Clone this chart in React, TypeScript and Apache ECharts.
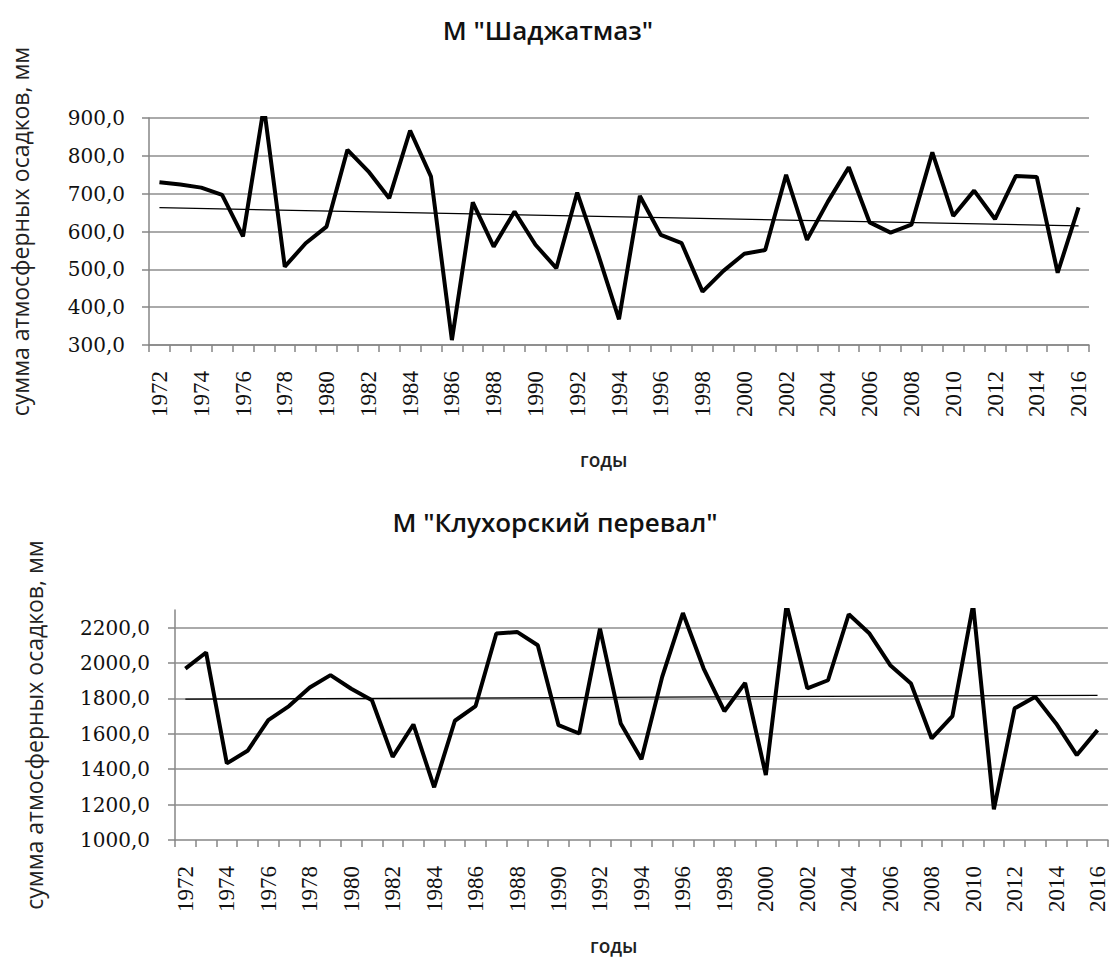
import React, { useEffect, useRef } from "react";
import * as echarts from "echarts";

const years = [
  "1972", "1973", "1974", "1975", "1976", "1977", "1978", "1979", "1980", "1981",
  "1982", "1983", "1984", "1985", "1986", "1987", "1988", "1989", "1990", "1991",
  "1992", "1993", "1994", "1995", "1996", "1997", "1998", "1999", "2000", "2001",
  "2002", "2003", "2004", "2005", "2006", "2007", "2008", "2009", "2010", "2011",
  "2012", "2013", "2014", "2015", "2016",
];

const shadzhatmaz = [
  730, 724, 716, 697, 587, 930, 507, 569, 613, 816,
  759, 688, 867, 745, 313, 677, 560, 653, 565, 503,
  703, 540, 368, 694, 591, 569, 441, 496, 541, 551,
  750, 578, 679, 770, 624, 597, 618, 809, 641, 708,
  633, 747, 744, 491, 664,
];

const klukhor = [
  1969, 2060, 1433, 1504, 1678, 1757, 1862, 1932, 1855, 1790,
  1470, 1653, 1298, 1674, 1757, 2167, 2176, 2101, 1649, 1602,
  2195, 1659, 1456, 1922, 2283, 1969, 1728, 1888, 1367, 2330,
  1857, 1903, 2276, 2167, 1988, 1885, 1574, 1700, 2330, 1173,
  1744, 1809, 1659, 1480, 1621,
];

// trend line end values (first year, last year)
const shadzhatmazTrend = [663, 615];
const klukhorTrend = [1796, 1818];

const klukhorTicks = [1000, 1200, 1400, 1600, 1800, 2000, 2200];

const titleTop = 'М "Шаджатмаз"';
const titleBottom = 'М "Клухорский перевал"';
const yName = "сумма атмосферных осадков, мм";
const xName = "годы";

const GRID_COLOR = "#8e8e8e";
const AXIS_COLOR = "#868686";

function trendData(ends: number[]) {
  return years.map((_, i) => (i === 0 ? ends[0] : i === years.length - 1 ? ends[1] : null));
}

const fmt = (v: number) => v.toFixed(1).replace(".", ",");

export default function App() {
  const ref = useRef<HTMLDivElement>(null);

  useEffect(() => {
    if (!ref.current) return;
    const chart = echarts.init(ref.current, undefined, { renderer: "svg" });

    const xAxisCommon = (gridIndex: number, margin: number) => ({
      type: "category",
      gridIndex,
      data: years,
      boundaryGap: true,
      axisLine: { show: true, lineStyle: { color: AXIS_COLOR, width: 1.5 } },
      axisTick: { show: true, interval: 0, length: 7, lineStyle: { color: AXIS_COLOR, width: 1.5 } },
      axisLabel: {
        interval: 1,
        rotate: 90,
        margin,
        color: "#111",
        fontFamily: "Liberation Serif",
        fontSize: 23,
      },
      splitLine: { show: false },
    });

    const titleStyle = { fontFamily: "Open Sans", fontWeight: 600, fontSize: 26, color: "#111" };

    const option = {
      animation: false,
      backgroundColor: "#ffffff",
      title: [
        { text: titleTop, left: 543, top: 12, textAlign: "center", textStyle: titleStyle },
        { text: titleBottom, left: 550, top: 504, textAlign: "center", textStyle: titleStyle },
      ],
      grid: [
        { left: 142, top: 118, width: 947, height: 227, containLabel: false },
        { left: 175, top: 610, width: 936, height: 230, containLabel: false },
      ],
      xAxis: [xAxisCommon(0, 26), xAxisCommon(1, 26)],
      yAxis: [
        {
          type: "value",
          gridIndex: 0,
          min: 300,
          max: 900,
          interval: 100,
          name: yName,
          nameLocation: "middle",
          nameGap: 118,
          nameRotate: 90,
          nameTextStyle: { fontFamily: "Open Sans", fontSize: 23, color: "#222" },
          axisLine: { show: true, lineStyle: { color: AXIS_COLOR, width: 1.5 } },
          axisTick: { show: true, length: 7, lineStyle: { color: AXIS_COLOR, width: 1.5 } },
          axisLabel: {
            margin: 24,
            color: "#111",
            fontFamily: "DejaVu Serif",
            fontSize: 20,
            formatter: fmt,
          },
          splitLine: { show: true, lineStyle: { color: GRID_COLOR, width: 1.5 } },
        },
        {
          type: "value",
          gridIndex: 1,
          min: 1000,
          max: 2300,
          interval: 200,
          name: yName,
          nameLocation: "middle",
          nameGap: 130,
          nameRotate: 90,
          nameTextStyle: { fontFamily: "Open Sans", fontSize: 23, color: "#222" },
          axisLine: { show: true, lineStyle: { color: AXIS_COLOR, width: 1.5 } },
          axisTick: {
            show: true,
            length: 7,
            customValues: klukhorTicks,
            lineStyle: { color: AXIS_COLOR, width: 1.5 },
          },
          axisLabel: {
            margin: 25,
            color: "#111",
            fontFamily: "DejaVu Serif",
            fontSize: 20,
            formatter: (v: number) => (v > 2200 ? "" : fmt(v)),
          },
          splitLine: { show: false },
        },
      ],
      graphic: [
        {
          type: "text",
          left: 580,
          top: 450,
          style: { text: xName, fontFamily: "Open Sans", fontWeight: 600, fontSize: 19, fill: "#222", textAlign: "center" },
        },
        {
          type: "text",
          left: 590,
          top: 936,
          style: { text: xName, fontFamily: "Open Sans", fontWeight: 600, fontSize: 19, fill: "#222", textAlign: "center" },
        },
      ],
      series: [
        {
          type: "line",
          name: "trend1",
          xAxisIndex: 0,
          yAxisIndex: 0,
          data: trendData(shadzhatmazTrend),
          connectNulls: true,
          symbol: "none",
          lineStyle: { color: "#000", width: 1.3 },
          z: 3,
        },
        {
          type: "line",
          name: "Шаджатмаз",
          xAxisIndex: 0,
          yAxisIndex: 0,
          data: shadzhatmaz,
          symbol: "none",
          clip: true,
          lineStyle: { color: "#000", width: 4 },
          z: 4,
        },
        {
          type: "line",
          name: "trend2",
          xAxisIndex: 1,
          yAxisIndex: 1,
          data: trendData(klukhorTrend),
          connectNulls: true,
          symbol: "none",
          lineStyle: { color: "#000", width: 1.3 },
          z: 3,
        },
        {
          type: "line",
          name: "Клухорский перевал",
          xAxisIndex: 1,
          yAxisIndex: 1,
          data: klukhor,
          symbol: "none",
          clip: true,
          lineStyle: { color: "#000", width: 4 },
          z: 4,
          markLine: {
            silent: true,
            z: 1,
            symbol: ["none", "none"],
            label: { show: false },
            lineStyle: { color: GRID_COLOR, width: 1.5, type: "solid" },
            data: klukhorTicks.filter((v) => v > 1000).map((v) => ({ yAxis: v })),
          },
        },
      ],
    };

    chart.setOption(option as any);
    return () => chart.dispose();
  }, []);

  return (
    <div
      ref={ref}
      style={{ position: "absolute", left: 0, top: 0, width: 1109, height: 968, background: "#fff" }}
    />
  );
}
